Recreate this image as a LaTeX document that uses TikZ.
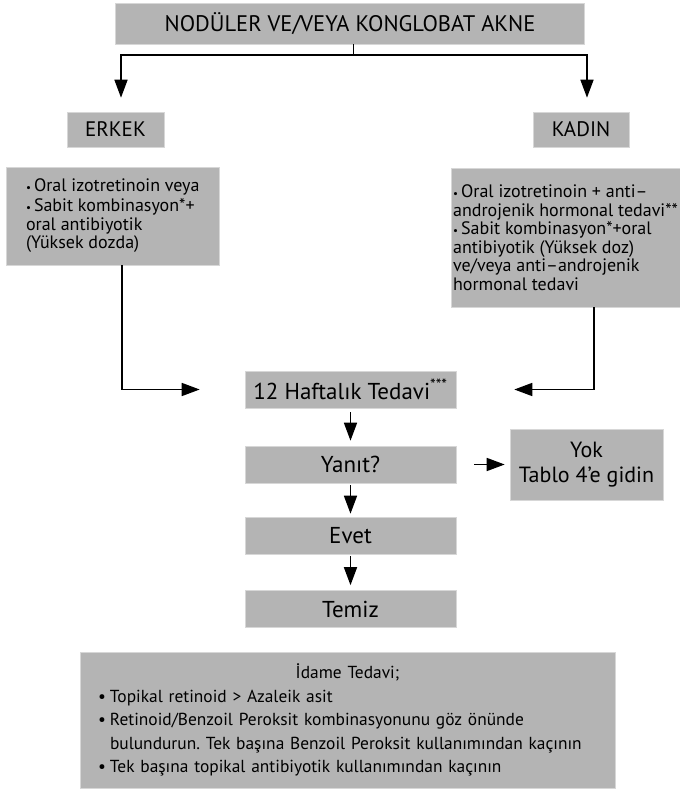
\documentclass[tikz,border=0pt]{standalone}
\usepackage{fontspec}
\setmainfont{PT Sans}
\usetikzlibrary{arrows.meta}
\definecolor{boxgray}{RGB}{180,180,180}
\definecolor{edgegray}{RGB}{215,215,215}
\newcommand\sbul{{\fontsize{11}{11}\selectfont •}\,}
\newcommand\bbul{\makebox[12pt][l]{•}}
\frenchspacing
\begin{document}
\begin{tikzpicture}[x=1pt,y=-1pt,
  box/.style={fill=boxgray, draw=edgegray, line width=0.6pt, inner sep=0pt, align=center},
  big/.style={font=\fontsize{21}{25}\selectfont},
  mid/.style={font=\fontsize{23}{26}\selectfont},
  small/.style={font=\fontsize{18}{18.5}\selectfont},
  ln/.style={line width=1.6pt},
  arr/.style={line width=1.6pt, -{Triangle[length=18pt,width=13pt]}}]
\useasboundingbox (0,0) rectangle (680,790);

\node[box, minimum width=469pt, minimum height=41pt, font=\fontsize{22.5}{26}\selectfont] (title) at (350,23.5) {NODÜLER VE/VEYA KONGLOBAT AKNE};
\node[box, big, minimum width=97pt, minimum height=35pt] (erkek) at (115.5,129.5) {ERKEK};
\node[box, big, minimum width=96pt, minimum height=35pt] (kadin) at (581,129.5) {KADIN};

\node[box, small, minimum width=212.5pt, minimum height=98pt, align=left] (lbox) at (112.75,216)
  {\sbul Oral izotretinoin veya\\[1.5pt] \sbul Sabit kombinasyon*+\\ oral antibiyotik\\ (Yüksek dozda)};
\node[box, small, minimum width=229pt, minimum height=139pt, align=left] (rbox) at (565.5,237.5)
  {\sbul Oral izotretinoin + anti–\\ androjenik hormonal tedavi**\\ \sbul Sabit kombinasyon*+oral\\ antibiyotik (Yüksek doz)\\ ve/veya anti–androjenik\\ hormonal tedavi};

\node[box, mid, minimum width=211pt, minimum height=37pt] (h12) at (350.5,389.5) {12 Haftalık Tedavi\textsuperscript{***}};
\node[box, mid, minimum width=211pt, minimum height=37pt] (yanit) at (350.5,464.5) {Yanıt?};
\node[box, minimum width=153pt, minimum height=71pt, font=\fontsize{22}{25}\selectfont] (yok) at (586.5,464.5) {Yok\\ Tablo 4’e gidin};
\node[box, mid, minimum width=211pt, minimum height=37pt] (evet) at (350.5,535.5) {Evet};
\node[box, mid, minimum width=211pt, minimum height=37pt] (temiz) at (350.5,609) {Temiz};

\node[box, minimum width=535pt, minimum height=136pt, text width=499pt, inner xsep=18pt, align=left, font=\fontsize{17.4}{23.5}\selectfont] (idame) at (347.5,720)
  {\makebox[\linewidth][c]{İdame Tedavi;}\\
   \bbul Topikal retinoid > Azaleik asit\\
   \bbul Retinoid/Benzoil Peroksit kombinasyonunu göz önünde\\
   \hspace*{12pt}bulundurun. Tek başına Benzoil Peroksit kullanımından kaçının\\
   \bbul Tek başına topikal antibiyotik kullanımından kaçının};

\coordinate (j) at (353.5,55);
\draw[ln] (title.south -| j) -- (j);
\draw[arr] (j) -| ([xshift=5.5pt,yshift=14pt]erkek.north);
\draw[arr] (j) -| ([xshift=6pt,yshift=14pt]kadin.north);

\draw[arr, shorten >=45pt] ([xshift=9pt]lbox.south) |- (h12.west);
\draw[arr, shorten >=58pt] ([xshift=28.5pt]rbox.south) |- (h12.east);

\draw[arr, shorten <=4pt, shorten >=5pt] (h12) -- (yanit);
\draw[arr, shorten <=2pt, shorten >=3pt] (yanit) -- (evet);
\draw[arr, shorten <=2pt, shorten >=5pt] (evet) -- (temiz);
\draw[arr, shorten <=18pt, shorten >=5pt] (yanit) -- (yok);
\end{tikzpicture}
\end{document}
